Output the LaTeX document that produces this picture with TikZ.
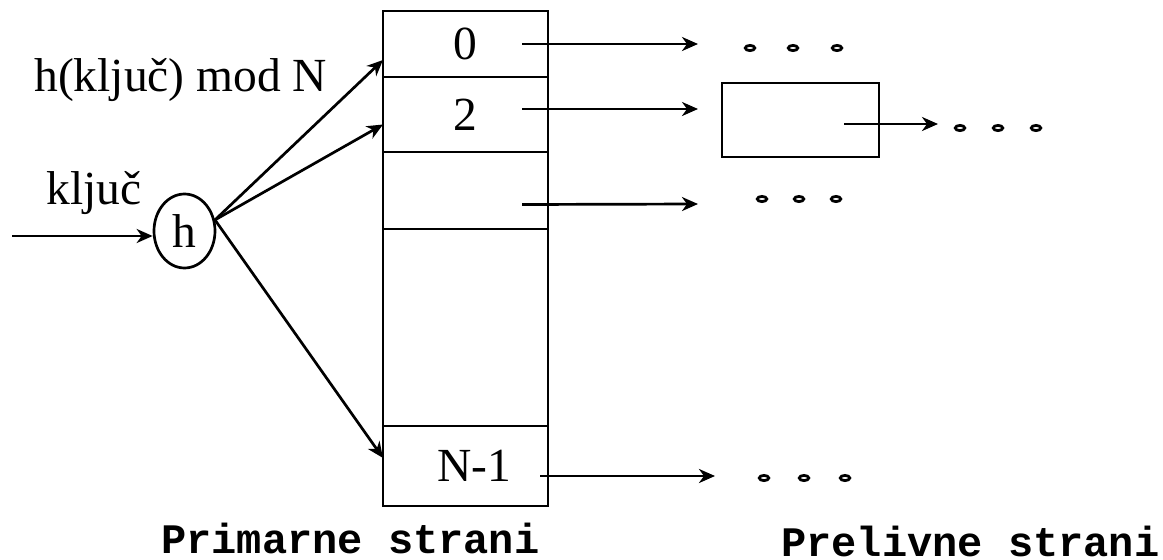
\documentclass[tikz,border=0pt]{standalone}
\usepackage{fontspec}
\setmainfont{Liberation Serif}
\setmonofont{Liberation Mono}
\usepackage{tikz}
\usetikzlibrary{arrows.meta,positioning,shapes.geometric}

\begin{document}
\begin{tikzpicture}[x=1pt,y=-1pt,line width=2.7pt,
  cell/.style={draw,outer sep=0pt,inner sep=0pt,minimum width=165pt,font=\fontsize{47.5}{57}\selectfont},
  txt/.style={inner sep=0pt,anchor=base west,font=\fontsize{47.5}{57}\selectfont},
  pagecap/.style={inner sep=0pt,anchor=base west,font=\fontsize{42}{48}\selectfont\ttfamily\bfseries},
  dot/.style={draw,ellipse,line width=2.8pt,inner sep=0pt,minimum width=9.5pt,minimum height=5.2pt},
  arr/.style={-{Stealth[length=16pt,width=14pt,inset=5pt]}}]
\useasboundingbox (0,0) rectangle (1163,560);
\node[cell,minimum height=66pt] (c0) at (465.5,44) {0};
\node[cell,below=0pt of c0,minimum height=75pt] (c2) {2};
\node[cell,below=0pt of c2,minimum height=77pt] (c3) {};
\node[cell,below=0pt of c3,minimum height=197pt] (cm) {};
\node[cell,below=0pt of cm,minimum height=80pt] (cN) {\hspace*{17pt}N-1};
\node[draw,ellipse,inner sep=0pt,minimum width=61pt,minimum height=74pt,font=\fontsize{47.5}{57}\selectfont] (h) at (184.5,231) {h};
\node[draw,outer sep=0pt,inner sep=0pt,minimum width=157pt,minimum height=74pt] (ov) at (800.5,120) {};
\node[txt] (fmod) at (33,91) {h(ključ) mod N};
\node[txt] (key) at (45,204) {ključ};
\node[pagecap] (prim) at (160,553) {Primarne strani};
\node[pagecap] (prel) at (780,556) {Prelivne strani};
\foreach \x/\y [count=\i] in {750/48,793/48,837/48,960/128,998/128,1036/128,762/199,799/199,836/199,764/478,804/478,845/478}
  \node[dot] (d\i) at (\x,\y) {};
\coordinate (in) at (12,236);
\coordinate (e0) at (698,44);
\coordinate (e2) at (698,109);
\coordinate (e3) at (698,204);
\coordinate (eN) at (715,476);
\coordinate (eo) at (938,124);
\draw[arr] (in) -- (in -| h.west);
\draw[arr] (h.20) -- ([yshift=-16pt]c0.west);
\draw[arr] (h.20) -- ([yshift=-10pt]c2.west);
\draw[arr] (h.20) -- ([yshift=8pt]cN.west);
\draw[arr] ([xshift=-26pt]c0.east) -- (e0);
\draw[arr] ([xshift=-26pt,yshift=5.5pt]c2.east) -- (e2);
\draw[arr] ([xshift=-26pt,yshift=-14pt]c3.east) -- (e3);
\draw[arr] ([xshift=-8pt,yshift=-10pt]cN.east) -- (eN);
\draw[arr] ([xshift=-35pt,yshift=-4pt]ov.east) -- (eo);
\end{tikzpicture}
\end{document}
